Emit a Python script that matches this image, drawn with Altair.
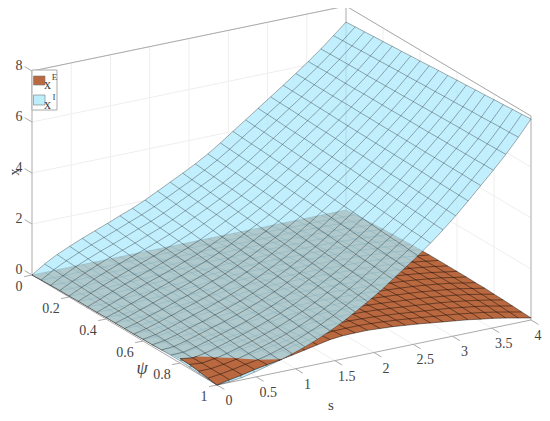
import altair as alt

s_vals = [0, .16, .32, .48, .64, .80, .96, 1.12, 1.28, 1.44, 1.60, 1.76, 1.92, 2.08, 2.24, 2.40, 2.56, 2.72, 2.88, 3.04, 3.20, 3.36, 3.52, 3.68, 3.84, 4]
psi_vals = [0, .05, .10, .15, .20, .25, .30, .35, .40, .45, .50, .55, .60, .65, .70, .75, .80, .85, .90, .95, 1]

x_I = [
[0,.02,.03,.04,.04,.05,.05,.05,.06,.06,.06,.06,.07,.07,.08,.09,.09,.06,.04,.02,0],
[.33,.32,.30,.29,.27,.26,.24,.23,.21,.20,.18,.17,.15,.14,.12,.11,.09,.08,.06,.05,.03],
[.60,.57,.55,.52,.50,.47,.45,.42,.40,.37,.35,.32,.29,.27,.24,.22,.19,.17,.14,.12,.09],
[.82,.79,.76,.73,.70,.66,.63,.60,.57,.54,.51,.48,.45,.42,.39,.36,.32,.29,.26,.23,.20],
[1.03,.99,.96,.93,.89,.85,.82,.79,.75,.71,.68,.65,.61,.57,.54,.51,.47,.43,.40,.37,.33],
[1.22,1.18,1.14,1.11,1.07,1.03,.99,.95,.92,.88,.84,.80,.76,.73,.69,.65,.61,.57,.54,.50,.46],
[1.41,1.37,1.33,1.29,1.25,1.21,1.17,1.13,1.09,1.05,1.01,.97,.93,.89,.85,.81,.77,.73,.69,.65,.61],
[1.61,1.57,1.53,1.49,1.44,1.40,1.36,1.32,1.28,1.24,1.20,1.15,1.11,1.07,1.03,.99,.95,.90,.86,.82,.78],
[1.80,1.76,1.72,1.68,1.64,1.60,1.55,1.51,1.47,1.43,1.39,1.35,1.31,1.27,1.23,1.19,1.14,1.10,1.06,1.02,.98],
[2.02,1.98,1.94,1.90,1.86,1.82,1.77,1.73,1.69,1.65,1.61,1.57,1.53,1.49,1.45,1.41,1.36,1.32,1.28,1.24,1.20],
[2.27,2.23,2.19,2.15,2.11,2.07,2.02,1.98,1.94,1.90,1.86,1.82,1.78,1.74,1.70,1.66,1.61,1.57,1.53,1.49,1.45],
[2.52,2.48,2.44,2.40,2.36,2.33,2.29,2.25,2.21,2.17,2.13,2.09,2.05,2.01,1.97,1.94,1.90,1.86,1.82,1.78,1.74],
[2.77,2.73,2.70,2.66,2.62,2.59,2.55,2.51,2.48,2.44,2.40,2.37,2.33,2.30,2.26,2.22,2.19,2.15,2.11,2.08,2.04],
[3.03,3.00,2.96,2.93,2.90,2.86,2.83,2.80,2.76,2.73,2.70,2.66,2.63,2.59,2.56,2.53,2.49,2.46,2.43,2.39,2.36],
[3.32,3.29,3.26,3.23,3.20,3.17,3.14,3.11,3.08,3.05,3.02,2.99,2.96,2.93,2.90,2.87,2.84,2.81,2.78,2.75,2.72],
[3.65,3.62,3.59,3.56,3.54,3.51,3.48,3.45,3.42,3.39,3.37,3.34,3.31,3.28,3.25,3.22,3.19,3.17,3.14,3.11,3.08],
[4.00,3.97,3.94,3.92,3.89,3.86,3.83,3.80,3.78,3.75,3.72,3.69,3.66,3.64,3.61,3.58,3.55,3.52,3.50,3.47,3.44],
[4.35,4.32,4.30,4.27,4.25,4.22,4.19,4.17,4.14,4.12,4.09,4.06,4.04,4.01,3.99,3.96,3.93,3.91,3.88,3.86,3.83],
[4.70,4.68,4.66,4.63,4.61,4.59,4.57,4.54,4.52,4.50,4.48,4.45,4.43,4.41,4.39,4.36,4.34,4.32,4.30,4.27,4.25],
[5.05,5.03,5.02,5.00,4.98,4.96,4.95,4.93,4.91,4.89,4.88,4.86,4.84,4.82,4.81,4.79,4.77,4.75,4.74,4.72,4.70],
[5.40,5.39,5.38,5.37,5.36,5.35,5.33,5.32,5.31,5.30,5.29,5.28,5.27,5.26,5.25,5.24,5.22,5.21,5.20,5.19,5.18],
[5.76,5.76,5.75,5.75,5.74,5.74,5.74,5.73,5.73,5.72,5.72,5.72,5.71,5.71,5.70,5.70,5.70,5.69,5.69,5.68,5.68],
[6.13,6.13,6.14,6.14,6.14,6.14,6.15,6.15,6.15,6.15,6.16,6.16,6.16,6.16,6.17,6.17,6.17,6.17,6.17,6.18,6.18],
[6.52,6.53,6.54,6.55,6.56,6.56,6.57,6.58,6.59,6.60,6.61,6.62,6.63,6.64,6.65,6.66,6.66,6.67,6.68,6.69,6.70],
[6.94,6.96,6.97,6.99,7.01,7.02,7.04,7.06,7.07,7.09,7.11,7.12,7.14,7.15,7.17,7.19,7.20,7.22,7.24,7.25,7.27],
[7.37,7.40,7.42,7.45,7.47,7.50,7.52,7.55,7.57,7.60,7.63,7.65,7.68,7.70,7.73,7.75,7.78,7.80,7.83,7.85,7.88],
]

x_E = [
[0,.02,.03,.04,.04,.05,.05,.05,.06,.06,.06,.06,.07,.07,.09,.13,.17,.16,.11,.05,0],
[0,.01,.01,.02,.02,.03,.03,.04,.04,.05,.05,.06,.06,.07,.07,.08,.10,.11,.11,.11,.10],
[0,.01,.02,.03,.04,.05,.06,.07,.08,.09,.11,.12,.13,.14,.15,.16,.17,.18,.18,.19,.19],
[0,.02,.03,.05,.06,.08,.09,.11,.12,.14,.15,.17,.18,.20,.21,.23,.24,.26,.27,.29,.30],
[0,.02,.04,.06,.08,.10,.12,.14,.16,.18,.20,.21,.23,.25,.27,.29,.31,.33,.35,.37,.39],
[0,.02,.05,.07,.09,.12,.14,.16,.19,.21,.24,.26,.28,.31,.33,.35,.38,.40,.42,.45,.47],
[0,.03,.06,.08,.11,.14,.17,.20,.22,.25,.28,.31,.34,.36,.39,.42,.45,.48,.50,.53,.56],
[0,.04,.07,.10,.14,.17,.21,.24,.27,.31,.34,.37,.40,.44,.47,.50,.53,.57,.60,.63,.66],
[0,.04,.08,.12,.17,.21,.25,.28,.32,.36,.40,.44,.48,.51,.55,.59,.62,.66,.69,.73,.76],
[0,.05,.10,.15,.20,.25,.29,.34,.38,.43,.47,.51,.55,.60,.64,.68,.71,.75,.79,.83,.86],
[0,.06,.11,.17,.22,.27,.32,.37,.42,.47,.52,.56,.60,.65,.69,.73,.77,.81,.84,.88,.91],
[0,.06,.12,.18,.24,.29,.34,.40,.45,.49,.54,.59,.63,.67,.71,.75,.79,.82,.86,.89,.92],
[0,.07,.13,.19,.25,.31,.36,.41,.46,.51,.56,.61,.65,.69,.73,.77,.80,.83,.86,.89,.92],
[0,.07,.13,.19,.25,.31,.36,.41,.46,.51,.56,.60,.64,.68,.72,.75,.78,.81,.84,.87,.89],
[0,.07,.13,.20,.26,.31,.37,.42,.47,.52,.56,.60,.64,.68,.71,.74,.77,.80,.82,.84,.86],
[0,.07,.14,.20,.26,.32,.37,.42,.47,.51,.56,.60,.63,.66,.69,.72,.74,.77,.78,.80,.81],
[0,.07,.13,.20,.25,.31,.36,.41,.46,.50,.54,.58,.61,.64,.67,.69,.71,.73,.74,.75,.76],
[0,.07,.13,.19,.25,.30,.35,.40,.44,.48,.52,.55,.58,.61,.63,.65,.67,.68,.69,.70,.70],
[0,.07,.13,.19,.24,.30,.34,.39,.43,.47,.50,.53,.56,.58,.60,.62,.63,.64,.64,.64,.64],
[0,.07,.13,.18,.24,.29,.33,.38,.41,.45,.48,.51,.53,.55,.57,.58,.59,.59,.59,.59,.58],
[0,.06,.12,.18,.23,.28,.32,.36,.40,.43,.46,.48,.50,.52,.53,.54,.54,.54,.54,.53,.52],
[0,.06,.12,.17,.22,.26,.30,.34,.37,.40,.42,.44,.46,.47,.48,.48,.48,.48,.47,.46,.44],
[0,.06,.11,.15,.20,.24,.27,.30,.33,.36,.38,.39,.40,.41,.42,.42,.42,.41,.40,.39,.37],
[0,.05,.09,.13,.17,.21,.24,.26,.29,.30,.32,.33,.34,.35,.35,.35,.34,.33,.32,.30,.28],
[0,.04,.08,.11,.14,.17,.19,.21,.23,.24,.25,.26,.26,.26,.26,.26,.25,.24,.22,.20,.18],
[0,.03,.06,.08,.11,.13,.14,.16,.17,.18,.18,.18,.18,.18,.17,.17,.15,.14,.12,.10,.08],
]

s_ticks = [0, .5, 1, 1.5, 2, 2.5, 3, 3.5, 4]
s_labels = ["0", "0.5", "1", "1.5", "2", "2.5", "3", "3.5", "4"]
psi_ticks = [0, .2, .4, .6, .8, 1]
psi_labels = ["0", "0.2", "0.4", "0.6", "0.8", "1"]
x_ticks = [0, 2, 4, 6, 8]
x_labels = ["0", "2", "4", "6", "8"]


def P(s, psi, x=0.0):
    """Orthographic view of the 3D axes, in page pixels."""
    return [32 + 78.5 * s + 185 * psi, 275 - 16.25 * s + 110 * psi - 25.5 * x]


FONT = "Times New Roman"
PROJ = dict(type="identity", scale=1, translate=[-8, -8])
ns, np_ = len(s_vals), len(psi_vals)


def grid_pts(tab):
    return [[P(s_vals[i], psi_vals[j], tab[i][j]) for j in range(np_)] for i in range(ns)]


def quads(pts):
    out = []
    for i in range(ns - 1):
        for j in range(np_ - 1):
            out.append([[pts[i][j], pts[i + 1][j], pts[i + 1][j + 1], pts[i][j + 1], pts[i][j]]])
    return out


def mesh(pts):
    out = [list(row) for row in pts]
    out += [[pts[i][j] for i in range(ns)] for j in range(np_)]
    return out


def lerp(a, b, t):
    return [a[0] + (b[0] - a[0]) * t, a[1] + (b[1] - a[1]) * t]


def clip_poly(vs, ds):
    res = []
    n = len(vs)
    for k in range(n):
        a, b, da, db = vs[k], vs[(k + 1) % n], ds[k], ds[(k + 1) % n]
        if da > 0:
            res.append(a)
        if (da > 0) != (db > 0):
            res.append(lerp(a, b, da / (da - db)))
    return res


def clip_seg(a, b, da, db):
    if da <= 0 and db <= 0:
        return None
    if da > 0 and db > 0:
        return [a, b]
    c = lerp(a, b, da / (da - db))
    return [a, c] if da > 0 else [c, b]


pE, pI = grid_pts(x_E), grid_pts(x_I)
d = [[x_E[i][j] - x_I[i][j] for j in range(np_)] for i in range(ns)]
TOP_FROM = 16
top_polys, top_lines = [], []
for i in range(ns - 1):
    for j in range(TOP_FROM, np_ - 1):
        vs = [pE[i][j], pE[i + 1][j], pE[i + 1][j + 1], pE[i][j + 1]]
        ds = [d[i][j], d[i + 1][j], d[i + 1][j + 1], d[i][j + 1]]
        c = clip_poly(vs, ds)
        if len(c) >= 3:
            top_polys.append([c + [c[0]]])
for i in range(ns):
    for j in range(TOP_FROM, np_):
        if i < ns - 1:
            g = clip_seg(pE[i][j], pE[i + 1][j], d[i][j], d[i + 1][j])
            if g:
                top_lines.append(g)
        if j < np_ - 1:
            g = clip_seg(pE[i][j], pE[i][j + 1], d[i][j], d[i][j + 1])
            if g:
                top_lines.append(g)

# walls and floor grid
grid_lines = []
for z in x_ticks[1:]:
    grid_lines += [[P(0, 0, z), P(4, 0, z)], [P(4, 0, z), P(4, 1, z)]]
for s in s_ticks[1:-1]:
    grid_lines += [[P(s, 0, 0), P(s, 0, 8)], [P(s, 0, 0), P(s, 1, 0)]]
for p in psi_ticks[1:-1]:
    grid_lines += [[P(4, p, 0), P(4, p, 8)], [P(0, p, 0), P(4, p, 0)]]

box_lines = [
    [P(0, 0, 0), P(0, 0, 8)], [P(0, 0, 8), P(4, 0, 8)], [P(4, 0, 8), P(4, 1, 8)],
    [P(4, 1, 8), P(4, 1, 0)], [P(4, 0, 0), P(4, 0, 8)],
    [P(0, 0, 0), P(0, 1, 0)], [P(0, 1, 0), P(4, 1, 0)],
]
for s in s_ticks:
    box_lines.append([P(s, 1, 0), P(s, 1.04, 0)])
for p in psi_ticks:
    box_lines.append([P(0, p, 0), P(-0.1, p, 0)])
for z in x_ticks:
    box_lines.append([P(0, 0, z), P(0, -0.04, z)])


def geo(gtype, coords):
    return alt.Data(values=[{"type": "Feature", "properties": {}, "geometry": {"type": gtype, "coordinates": coords}}])


def lines(coords, color, width, opacity=1.0):
    return alt.Chart(geo("MultiLineString", coords)).mark_geoshape(
        filled=False, stroke=color, strokeWidth=width, strokeOpacity=opacity
    ).project(**PROJ)


def fills(coords, color, opacity=1.0):
    return alt.Chart(geo("MultiPolygon", coords)).mark_geoshape(
        fill=color, fillOpacity=opacity, strokeWidth=0
    ).project(**PROJ)


def rect(x0, y0, x1, y1, fill, stroke, sw):
    c = [[[x0, y0], [x1, y0], [x1, y1], [x0, y1], [x0, y0]]]
    return alt.Chart(geo("Polygon", c)).mark_geoshape(fill=fill, stroke=stroke, strokeWidth=sw).project(**PROJ)


def texts(rows, size=14, color="#444444", **kw):
    return alt.Chart(alt.Data(values=rows)).mark_text(
        font=FONT, fontSize=size, color=color, align="center", baseline="middle", **kw
    ).encode(
        longitude=alt.Longitude("px", type="quantitative"),
        latitude=alt.Latitude("py", type="quantitative"),
        text=alt.Text("t:N"),
    ).project(**PROJ)


BROWN = "#b9683f"
BLUE = "#aeeafc"

tick_rows = []
for s, t in zip(s_ticks, s_labels):
    p = P(s, 1, 0)
    tick_rows.append({"px": min(p[0] + 12, 538), "py": p[1] + 16, "t": t})
for q, t in zip(psi_ticks, psi_labels):
    p = P(0, q, 0)
    tick_rows.append({"px": p[0] - (13 if len(t) == 1 else 18), "py": p[1] + 12, "t": t})
for z, t in zip(x_ticks, x_labels):
    p = P(0, 0, z)
    tick_rows.append({"px": p[0] - 13, "py": p[1] - 5, "t": t})

chart = alt.layer(
    lines(grid_lines, "#eeeeee", 1),
    lines(box_lines, "#aaaaaa", 1),
    fills(quads(pE), BROWN),
    lines(mesh(pE), "#000000", 0.8, 0.55),
    fills(quads(pI), BLUE, 0.75),
    lines(mesh(pI), "#000000", 0.8, 0.4),
    fills(top_polys, BROWN),
    lines(top_lines, "#000000", 0.8, 0.55),
    rect(32, 70, 57, 110, "#ffffff", "#aaaaaa", 1),
    rect(33.5, 76, 45, 85, BROWN, "#777777", 0.6),
    rect(33.5, 95, 45, 105, "#bdeefc", "#777777", 0.6),
    texts(tick_rows),
    texts([{"px": 47.5, "py": 85, "t": "x"}, {"px": 47.5, "py": 105, "t": "x"}], size=14),
    texts([{"px": 54.5, "py": 77, "t": "E"}, {"px": 54, "py": 97, "t": "I"}], size=9),
    texts([{"px": 331, "py": 405, "t": "s"}], size=15),
    texts([{"px": 142, "py": 369, "t": "ψ"}], size=18, fontStyle="italic"),
    texts([{"px": 15, "py": 172, "t": "x"}], size=14, angle=270),
).properties(width=534, height=405, padding=0, autosize=alt.AutoSizeParams(type="none")).configure_view(stroke=None)

chart.save("out.html", embed_options={"renderer": "svg", "actions": False})
